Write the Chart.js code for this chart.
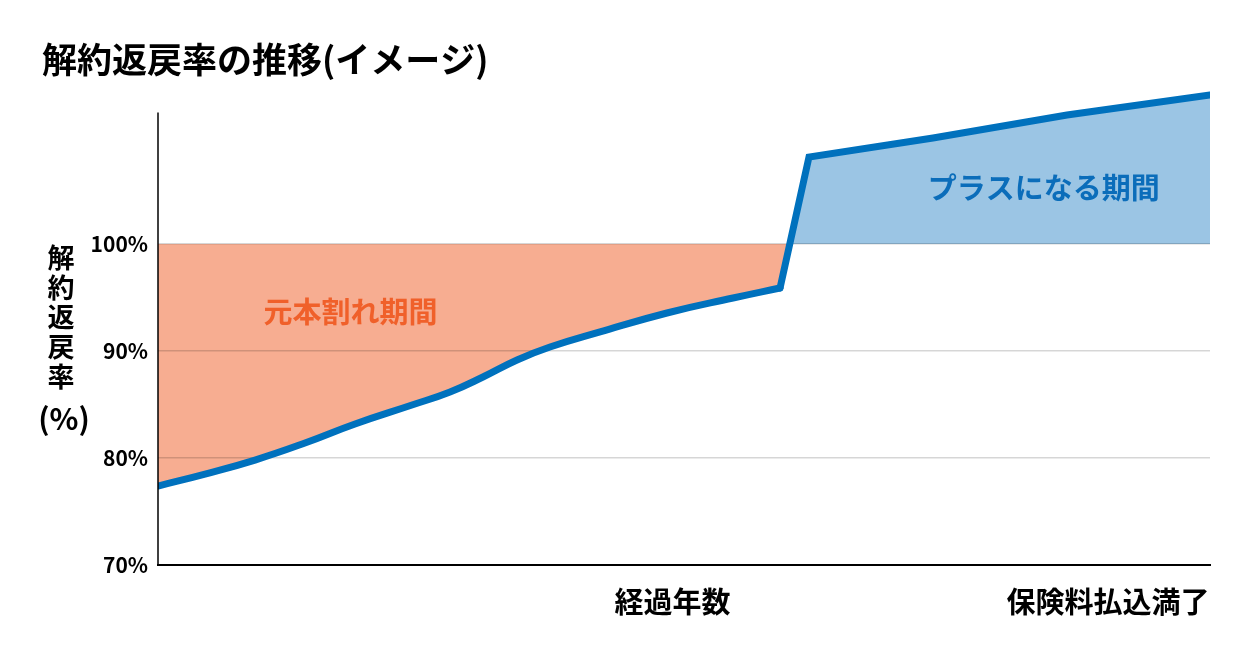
<!DOCTYPE html>
<html lang="ja">
<head>
<meta charset="utf-8">
<script src="https://cdn.jsdelivr.net/npm/chart.js@4.4.1/dist/chart.umd.min.js"></script>
<style>
  html, body { margin: 0; padding: 0; background: #ffffff; }
  #wrap { width: 1251px; height: 668px; }
</style>
</head>
<body>
<div id="wrap"><canvas id="c" width="1251" height="668"></canvas></div>
<script>
// ---- data ----
const chartTitle = '解約返戻率の推移(イメージ)';
const yAxisTitleChars = ['解', '約', '返', '戻', '率'];
const yAxisUnit = '(%)';
const yTickValues = [70, 80, 90, 100];
const xTickValues = [48.9, 90.3];
const xTickLabels = ['経過年数', '保険料払込満了'];
// elapsed time (0 = contract start, 100 = end of premium payment)
const elapsed = [0, 4.47, 9.22, 13.97, 18.73, 24.14, 27.76, 30.89, 34.13, 37.26, 42.02, 48.38, 54.66, 59.13, 61.88, 73.67, 86.41, 100];
// surrender value ratio (%)
const surrenderRate = [77.38, 78.50, 79.81, 81.40, 83.18, 84.95, 86.17, 87.57, 89.16, 90.37, 91.78, 93.55, 94.95, 95.89, 108.13, 109.91, 112.06, 113.93];
const lastIndexBeforeJump = 13;
const baseline = 100;
const regionLabels = ['元本割れ期間', 'プラスになる期間'];

const FONT = "'Noto Sans CJK JP', 'Noto Sans', sans-serif";
const LINE_COLOR = '#0071bd';

const points = elapsed.map((x, i) => ({ x: x, y: surrenderRate[i] }));

const overlayPlugin = {
  id: 'overlay',
  afterDraw(chart) {
    const ctx = chart.ctx;
    const xs = chart.scales.x, ys = chart.scales.y;
    const area = chart.chartArea;
    ctx.save();
    // left axis line (stops below the top of the plot)
    ctx.strokeStyle = '#000000';
    ctx.lineWidth = 1.5;
    ctx.beginPath();
    ctx.moveTo(area.left, ys.getPixelForValue(112.3));
    ctx.lineTo(area.left, area.bottom + 1);
    ctx.stroke();
    // region labels
    ctx.font = 'bold 29px ' + FONT;
    ctx.textAlign = 'center';
    ctx.textBaseline = 'middle';
    ctx.fillStyle = '#f0602a';
    ctx.fillText(regionLabels[0], xs.getPixelForValue(18.3), ys.getPixelForValue(93.6));
    ctx.fillStyle = '#0b6dba';
    ctx.fillText(regionLabels[1], xs.getPixelForValue(84.2), ys.getPixelForValue(105.2));
    // vertical y axis title
    ctx.fillStyle = '#000000';
    ctx.font = 'bold 27px ' + FONT;
    yAxisTitleChars.forEach((ch, i) => {
      ctx.fillText(ch, 61, 258 + i * 29.6);
    });
    ctx.font = 'bold 30px ' + FONT;
    ctx.fillText(yAxisUnit, 64, 419);
    ctx.restore();
  }
};

const lineStyle = {
  borderColor: LINE_COLOR,
  borderWidth: 7,
  borderCapStyle: 'round',
  pointRadius: 0,
  pointHoverRadius: 0,
  fill: false
};

new Chart(document.getElementById('c'), {
  type: 'line',
  data: {
    datasets: [
      {
        // area against 100% (fill only)
        data: points,
        borderColor: 'rgba(0,0,0,0)',
        borderWidth: 1,
        pointRadius: 0,
        pointHoverRadius: 0,
        tension: 0,
        fill: { target: { value: baseline }, above: '#9bc5e4', below: '#f7ad91' }
      },
      Object.assign({}, lineStyle, {
        // smooth curve of the early years
        data: points.slice(0, lastIndexBeforeJump + 1),
        tension: 0.45
      }),
      Object.assign({}, lineStyle, {
        // sharp jump and the later years
        data: points.slice(lastIndexBeforeJump),
        tension: 0
      })
    ]
  },
  options: {
    responsive: false,
    animation: false,
    events: [],
    layout: { padding: { left: 42, right: 41, top: 0, bottom: 23 } },
    plugins: {
      legend: { display: false },
      tooltip: { enabled: false },
      filler: { drawTime: 'beforeDraw' },
      title: {
        display: true,
        text: chartTitle,
        align: 'start',
        color: '#000000',
        font: { family: FONT, size: 35, weight: 'bold', lineHeight: 1.2 },
        padding: { top: 39, bottom: 2.5 }
      }
    },
    scales: {
      x: {
        type: 'linear',
        min: 0,
        max: 100,
        afterBuildTicks(scale) { scale.ticks = xTickValues.map(v => ({ value: v })); },
        afterFit(scale) { scale.height = 80; },
        ticks: {
          autoSkip: false,
          maxRotation: 0,
          padding: 12,
          color: '#000000',
          font: { family: FONT, size: 29, weight: 'bold' },
          callback(value, index) { return xTickLabels[index]; }
        },
        grid: { display: false },
        border: { display: true, color: '#000000', width: 2 }
      },
      y: {
        type: 'linear',
        min: 70,
        max: 115,
        afterBuildTicks(scale) { scale.ticks = yTickValues.map(v => ({ value: v })); },
        afterFit(scale) { scale.width = 116; },
        ticks: {
          padding: 10,
          color: '#000000',
          font: { family: FONT, size: 21, weight: 'bold' },
          callback(value) { return value + '%'; }
        },
        grid: {
          drawTicks: false,
          lineWidth: 1.5,
          color(ctx) { return ctx.tick && ctx.tick.value === 70 ? 'rgba(0,0,0,0)' : 'rgba(0,0,0,0.16)'; }
        },
        border: { display: false }
      }
    }
  },
  plugins: [overlayPlugin]
});
</script>
</body>
</html>
